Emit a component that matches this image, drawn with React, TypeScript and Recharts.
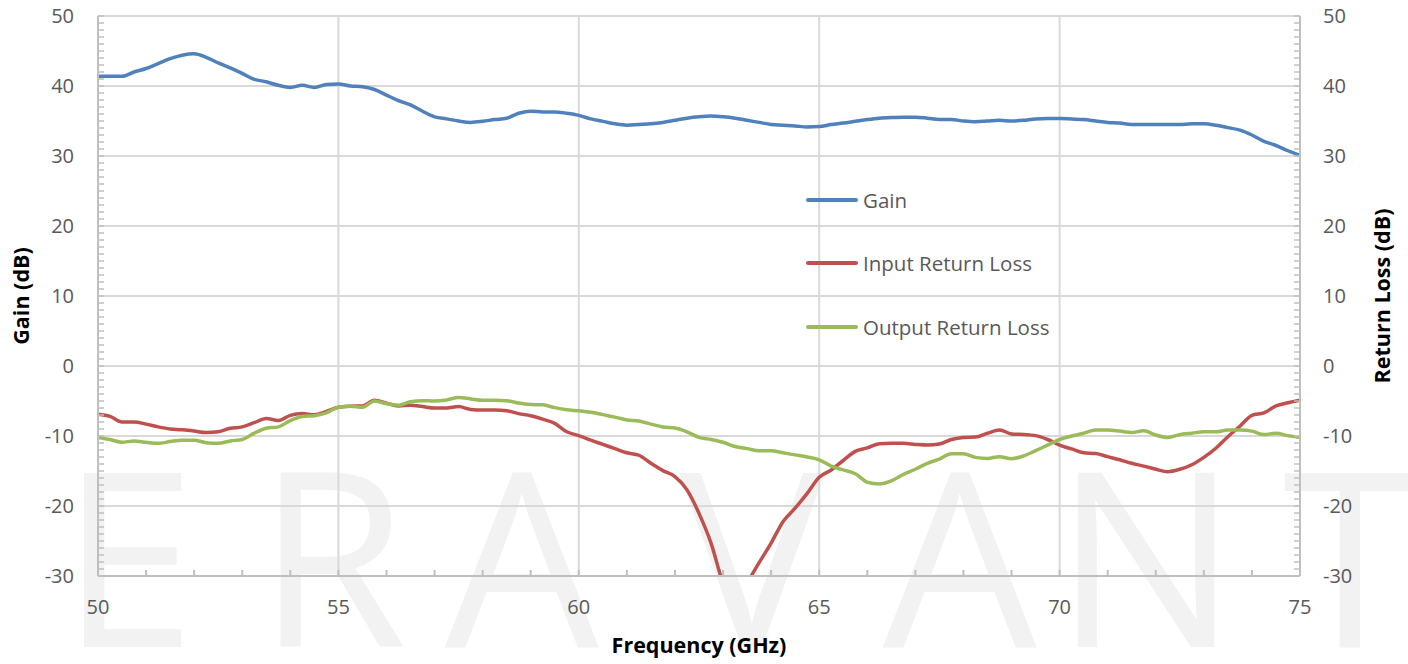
import React from 'react';
import { LineChart, Line, XAxis, YAxis, CartesianGrid, Legend, Label } from 'recharts';

const frequencyGHz = [
  50, 50.25, 50.5, 50.75, 51, 51.25, 51.5, 51.75, 52, 52.25, 52.5, 52.75,
  53, 53.25, 53.5, 53.75, 54, 54.25, 54.5, 54.75, 55, 55.25, 55.5, 55.75,
  56, 56.25, 56.5, 56.75, 57, 57.25, 57.5, 57.75, 58, 58.25, 58.5, 58.75,
  59, 59.25, 59.5, 59.75, 60, 60.25, 60.5, 60.75, 61, 61.25, 61.5, 61.75,
  62, 62.25, 62.5, 62.75, 63, 63.25, 63.5, 63.75, 64, 64.25, 64.5, 64.75,
  65, 65.25, 65.5, 65.75, 66, 66.25, 66.5, 66.75, 67, 67.25, 67.5, 67.75,
  68, 68.25, 68.5, 68.75, 69, 69.25, 69.5, 69.75, 70, 70.25, 70.5, 70.75,
  71, 71.25, 71.5, 71.75, 72, 72.25, 72.5, 72.75, 73, 73.25, 73.5, 73.75,
  74, 74.25, 74.5, 74.75, 75,
];

const gainDb = [
  41.4, 41.4, 41.4, 42.0, 42.5, 43.2, 43.9, 44.4, 44.6, 44.1, 43.3, 42.6,
  41.8, 40.95, 40.6, 40.1, 39.8, 40.1, 39.8, 40.2, 40.3, 40.0, 39.9, 39.5,
  38.7, 37.9, 37.3, 36.4, 35.6, 35.3, 35.0, 34.8, 34.95, 35.2, 35.4, 36.1,
  36.4, 36.3, 36.3, 36.1, 35.8, 35.3, 34.95, 34.6, 34.4, 34.5, 34.6, 34.8,
  35.1, 35.4, 35.6, 35.7, 35.6, 35.4, 35.1, 34.8, 34.5, 34.4, 34.3, 34.15,
  34.2, 34.5, 34.7, 34.95, 35.2, 35.4, 35.5, 35.55, 35.55, 35.4, 35.2, 35.2,
  35.0, 34.9, 35.0, 35.1, 35.0, 35.1, 35.3, 35.35, 35.35, 35.3, 35.2, 35.0,
  34.8, 34.7, 34.5, 34.5, 34.5, 34.5, 34.5, 34.6, 34.6, 34.4, 34.05, 33.7,
  33.0, 32.1, 31.5, 30.75, 30.1,
];

const inputReturnLossDb = [
  -6.9, -7.2, -8.0, -8.0, -8.3, -8.7, -9.0, -9.1, -9.3, -9.5, -9.4, -8.9,
  -8.7, -8.1, -7.5, -7.8, -7.05, -6.8, -6.95, -6.5, -5.9, -5.75, -5.7, -4.9,
  -5.3, -5.7, -5.6, -5.8, -6.0, -6.0, -5.8, -6.2, -6.3, -6.3, -6.4, -6.8,
  -7.1, -7.6, -8.2, -9.4, -9.95, -10.6, -11.2, -11.8, -12.4, -12.75, -13.9, -14.95,
  -15.8, -17.7, -21.05, -25.3, -31.0, -34.0, -31.0, -28.1, -25.3, -22.2, -20.3, -18.2,
  -15.9, -14.85, -13.5, -12.2, -11.7, -11.1, -11.05, -11.05, -11.2, -11.3, -11.15, -10.5,
  -10.2, -10.15, -9.6, -9.15, -9.7, -9.8, -9.95, -10.5, -11.3, -11.85, -12.4, -12.5,
  -12.95, -13.4, -13.9, -14.3, -14.75, -15.1, -14.75, -14.1, -13.05, -11.75, -10.1, -8.6,
  -7.05, -6.7, -5.7, -5.25, -4.9,
];

const outputReturnLossDb = [
  -10.2, -10.5, -10.9, -10.7, -10.9, -11.05, -10.8, -10.6, -10.6, -10.95, -11.05, -10.7,
  -10.5, -9.6, -8.9, -8.7, -7.8, -7.2, -7.1, -6.7, -5.9, -5.75, -5.9, -5.0,
  -5.4, -5.6, -5.1, -4.95, -5.0, -4.85, -4.5, -4.7, -4.9, -4.9, -4.95, -5.3,
  -5.5, -5.55, -5.95, -6.25, -6.4, -6.6, -6.95, -7.3, -7.7, -7.85, -8.3, -8.7,
  -8.85, -9.4, -10.2, -10.5, -10.9, -11.5, -11.8, -12.1, -12.1, -12.4, -12.7, -13.0,
  -13.4, -14.3, -14.85, -15.4, -16.6, -16.85, -16.4, -15.5, -14.75, -13.9, -13.3, -12.55,
  -12.55, -13.05, -13.2, -12.95, -13.25, -12.85, -12.1, -11.3, -10.5, -10.0, -9.6, -9.15,
  -9.15, -9.3, -9.5, -9.25, -9.85, -10.2, -9.8, -9.6, -9.4, -9.4, -9.15, -9.15,
  -9.3, -9.8, -9.6, -9.95, -10.2,
];

const xTicks = [50, 55, 60, 65, 70, 75];
const xMinorTicks = [
  50, 51, 52, 53, 54, 55, 56, 57, 58, 59, 60, 61, 62, 63, 64, 65, 66, 67, 68, 69, 70, 71, 72, 73, 74, 75,
];
const yTicks = [-30, -20, -10, 0, 10, 20, 30, 40, 50];
const yMinorTicks = Array.from({ length: 81 }, (_, i) => -30 + i);

const watermarkLetters = [
  { ch: 'E', cx: 128 },
  { ch: 'R', cx: 332 },
  { ch: 'A', cx: 522 },
  { ch: 'V', cx: 752 },
  { ch: 'A', cx: 960 },
  { ch: 'N', cx: 1146 },
  { ch: 'T', cx: 1350 },
];

const data = frequencyGHz.map((f, i) => ({
  f,
  gain: gainDb[i],
  irl: inputReturnLossDb[i],
  orl: outputReturnLossDb[i],
}));

const FONT = "'Open Sans', 'Liberation Sans', sans-serif";
const TICK_COLOR = '#595959';
const AXIS_COLOR = '#bfbfbf';
const GRID_COLOR = '#d9d9d9';
const MINOR_LEN = 6;

const XTick = (props: any) => {
  const { x, y, payload } = props;
  return (
    <text x={x} y={y + 38} textAnchor="middle" fill={TICK_COLOR} fontSize={20} fontFamily={FONT}>
      {String(payload.value)}
    </text>
  );
};

const LeftTick = (props: any) => {
  const { x, y, payload } = props;
  return (
    <text x={x - 24} y={y + 7} textAnchor="end" fill={TICK_COLOR} fontSize={20} fontFamily={FONT}>
      {String(payload.value)}
    </text>
  );
};

const RightTick = (props: any) => {
  const { x, y, payload } = props;
  return (
    <text x={x + 23} y={y + 7} textAnchor="start" fill={TICK_COLOR} fontSize={20} fontFamily={FONT}>
      {String(payload.value)}
    </text>
  );
};

const BottomMinorTick = (props: any) => {
  const { x, y } = props;
  return <line x1={x} x2={x} y1={y} y2={y - MINOR_LEN} stroke={AXIS_COLOR} strokeWidth={2} />;
};
const LeftMinorTick = (props: any) => {
  const { x, y } = props;
  return <line x1={x} x2={x + MINOR_LEN} y1={y} y2={y} stroke={AXIS_COLOR} strokeWidth={1.5} />;
};
const RightMinorTick = (props: any) => {
  const { x, y } = props;
  return <line x1={x} x2={x - MINOR_LEN} y1={y} y2={y} stroke={AXIS_COLOR} strokeWidth={1.5} />;
};

const renderLegend = (props: any) => {
  const { payload } = props;
  return (
    <div style={{ fontFamily: FONT, fontSize: 20.5, color: TICK_COLOR }}>
      {(payload || []).map((entry: any) => (
        <div key={entry.value} style={{ display: 'flex', alignItems: 'center', height: 63.5 }}>
          <div style={{ width: 52, height: 4, background: entry.color, borderRadius: 2 }} />
          <span style={{ marginLeft: 5, whiteSpace: 'nowrap' }}>{entry.value}</span>
        </div>
      ))}
    </div>
  );
};

export default function App() {
  return (
    <div style={{ position: 'absolute', left: 0, top: 0, width: 1408, height: 664, background: '#ffffff', overflow: 'hidden' }}>
      <svg
        width={1408}
        height={664}
        style={{ position: 'absolute', left: 0, top: 0 }}
      >
        {watermarkLetters.map((l, i) => (
          <text
            key={i}
            x={l.cx}
            y={647}
            textAnchor="middle"
            fontFamily={FONT}
            fontSize={244}
            fill="#f2f2f2"
          >
            {l.ch}
          </text>
        ))}
      </svg>
      <div style={{ position: 'absolute', left: 0, top: 0 }}>
        <LineChart
          width={1408}
          height={664}
          data={data}
          margin={{ top: 16, right: 0, bottom: 0, left: 0 }}
        >
          <CartesianGrid
            xAxisId="x"
            yAxisId="gain"
            stroke={GRID_COLOR}
            strokeWidth={2}
          />
          <XAxis
            xAxisId="xMinor"
            dataKey="f"
            type="number"
            domain={[50, 75]}
            ticks={xMinorTicks}
            interval={0}
            height={10}
            mirror
            axisLine={false}
            tickLine={false}
            tickSize={0}
            tickMargin={0}
            tick={<BottomMinorTick />}
            allowDataOverflow
          />
          <XAxis
            xAxisId="x"
            dataKey="f"
            type="number"
            domain={[50, 75]}
            ticks={xTicks}
            interval={0}
            height={88}
            axisLine={{ stroke: AXIS_COLOR, strokeWidth: 2 }}
            tickLine={false}
            tickSize={0}
            tickMargin={0}
            tick={<XTick />}
            allowDataOverflow
          >
            <Label
              content={(p: any) => {
                const vb = p.viewBox || { x: 98, y: 576, width: 1202, height: 88 };
                return (
                  <text
                    x={vb.x + vb.width / 2}
                    y={vb.y + 77}
                    textAnchor="middle"
                    fontFamily={FONT}
                    fontWeight="bold"
                    fontSize={21.5}
                    fill="#000000"
                  >
                    Frequency (GHz)
                  </text>
                );
              }}
            />
          </XAxis>
          <YAxis
            yAxisId="gainMinor"
            orientation="left"
            type="number"
            domain={[-30, 50]}
            ticks={yMinorTicks}
            interval={0}
            width={10}
            mirror
            axisLine={false}
            tickLine={false}
            tickSize={0}
            tickMargin={0}
            tick={<LeftMinorTick />}
            allowDataOverflow
          />
          <YAxis
            yAxisId="gain"
            orientation="left"
            type="number"
            domain={[-30, 50]}
            ticks={yTicks}
            interval={0}
            width={98}
            axisLine={{ stroke: AXIS_COLOR, strokeWidth: 2 }}
            tickLine={false}
            tickSize={0}
            tickMargin={0}
            tick={<LeftTick />}
            allowDataOverflow
          >
            <Label
              content={(p: any) => {
                const vb = p.viewBox || { x: 0, y: 16, width: 98, height: 560 };
                const cx = vb.x + 20;
                const cy = vb.y + vb.height / 2;
                return (
                  <text
                    x={cx}
                    y={cy}
                    transform={`rotate(-90, ${cx}, ${cy})`}
                    textAnchor="middle"
                    dominantBaseline="central"
                    fontFamily={FONT}
                    fontWeight="bold"
                    fontSize={21.5}
                    fill="#000000"
                  >
                    Gain (dB)
                  </text>
                );
              }}
            />
          </YAxis>
          <YAxis
            yAxisId="rlMinor"
            orientation="right"
            type="number"
            domain={[-30, 50]}
            ticks={yMinorTicks}
            interval={0}
            width={10}
            mirror
            axisLine={false}
            tickLine={false}
            tickSize={0}
            tickMargin={0}
            tick={<RightMinorTick />}
            allowDataOverflow
          />
          <YAxis
            yAxisId="rl"
            orientation="right"
            type="number"
            domain={[-30, 50]}
            ticks={yTicks}
            interval={0}
            width={108}
            axisLine={{ stroke: AXIS_COLOR, strokeWidth: 2 }}
            tickLine={false}
            tickSize={0}
            tickMargin={0}
            tick={<RightTick />}
            allowDataOverflow
          >
            <Label
              content={(p: any) => {
                const vb = p.viewBox || { x: 1300, y: 16, width: 108, height: 560 };
                const cx = vb.x + 81;
                const cy = vb.y + vb.height / 2;
                return (
                  <text
                    x={cx}
                    y={cy}
                    transform={`rotate(-90, ${cx}, ${cy})`}
                    textAnchor="middle"
                    dominantBaseline="central"
                    fontFamily={FONT}
                    fontWeight="bold"
                    fontSize={21.5}
                    fill="#000000"
                  >
                    Return Loss (dB)
                  </text>
                );
              }}
            />
          </YAxis>
          <Legend
            layout="vertical"
            align="center"
            verticalAlign="middle"
            wrapperStyle={{ left: 806, top: 168, width: 'auto' }}
            content={renderLegend}
          />
          <Line
            xAxisId="x"
            yAxisId="gain"
            name="Gain"
            dataKey="gain"
            type="monotone"
            stroke="#4f81bd"
            strokeWidth={3.5}
            dot={false}
            activeDot={false}
            isAnimationActive={false}
          />
          <Line
            xAxisId="x"
            yAxisId="rl"
            name="Input Return Loss"
            dataKey="irl"
            type="monotone"
            stroke="#c0504d"
            strokeWidth={3.5}
            dot={false}
            activeDot={false}
            isAnimationActive={false}
          />
          <Line
            xAxisId="x"
            yAxisId="rl"
            name="Output Return Loss"
            dataKey="orl"
            type="monotone"
            stroke="#9bbb59"
            strokeWidth={3.5}
            dot={false}
            activeDot={false}
            isAnimationActive={false}
          />
        </LineChart>
      </div>
    </div>
  );
}
